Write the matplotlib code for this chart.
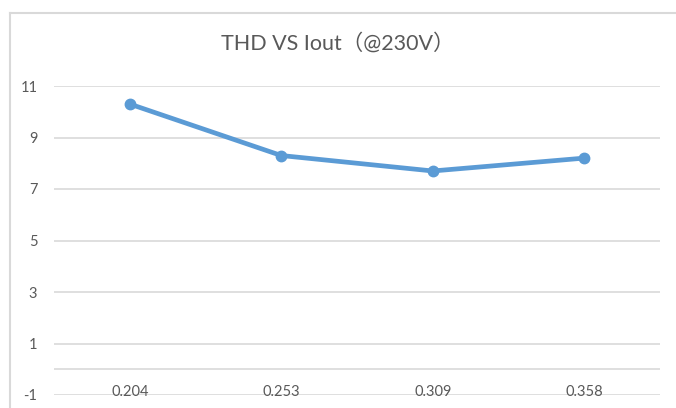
import matplotlib
matplotlib.use("Agg")
import matplotlib.pyplot as plt
from matplotlib.lines import Line2D

categories = ["0.204", "0.253", "0.309", "0.358"]
thd = [10.3, 8.3, 7.7, 8.2]
yticks = [-1, 1, 3, 5, 7, 9, 11]
title = "THD VS Iout（@230V）"

plt.rcParams['font.family'] = ['Lato', 'Noto Sans CJK SC', 'DejaVu Sans']
W, H = 676, 408
fig = plt.figure(figsize=(W/100, H/100), dpi=100)
ax = fig.add_axes([54/W, (H-395)/H, (660-54)/W, (395-86)/H])

x = list(range(len(categories)))
ax.plot(x, thd, color='#5B9BD5', lw=3.4, marker='o', ms=7.5,
        solid_capstyle='round', zorder=3)
ax.set_xlim(-0.5, len(categories)-0.5)
ax.set_ylim(-1, 11)
ax.set_yticks(yticks)
ax.set_yticklabels([str(v) for v in yticks])
ax.tick_params(axis='y', length=0, pad=12, labelsize=10.5, labelcolor='#595959')
ax.set_xticks([])
for s in ax.spines.values():
    s.set_visible(False)
for v in yticks:
    ax.axhline(v, color='#D9D9D9', lw=1.2, zorder=1)
ax.axhline(0, color='#D9D9D9', lw=1.2, zorder=1)
for i, c in enumerate(categories):
    ax.text(i, -1.03, c, ha='center', va='baseline', fontsize=10.5, color='#595959')

fig.text(338/W, 1-43/H, title, ha='center', va='center', fontsize=15.5, color='#595959')

# chart border (left and top)
fig.add_artist(Line2D([9.5/W, 9.5/W], [0, 1-13/H], transform=fig.transFigure, color='#D9D9D9', lw=1.5))
fig.add_artist(Line2D([9.5/W, 1], [1-13/H, 1-13/H], transform=fig.transFigure, color='#D9D9D9', lw=1.5))

fig.savefig("out.png", dpi=100)
